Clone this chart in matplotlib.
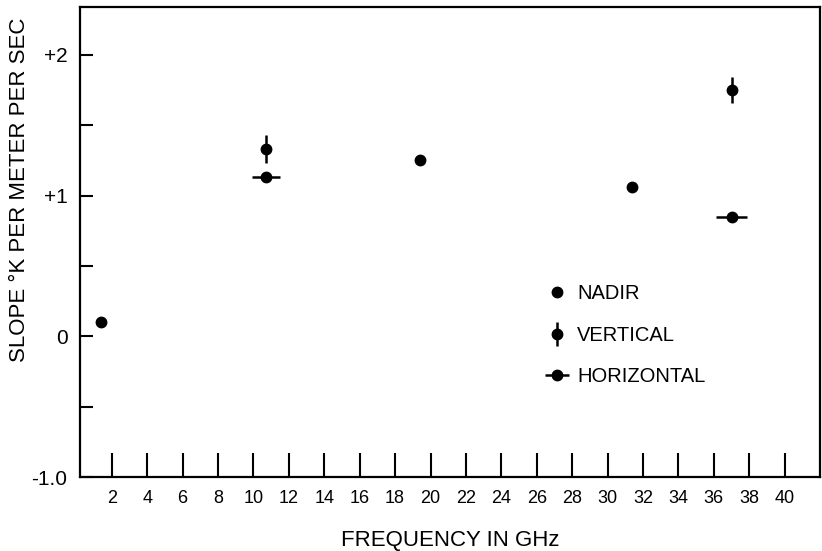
import matplotlib
matplotlib.use("Agg")
import matplotlib.pyplot as plt
from matplotlib.legend_handler import HandlerErrorbar

# --- data ---
nadir_freq = [1.4, 19.4, 31.4]
nadir_slope = [0.10, 1.25, 1.06]

vert_freq = [10.7, 37.0]
vert_slope = [1.33, 1.75]
vert_err = [0.10, 0.09]

horiz_freq = [10.7, 37.0]
horiz_slope = [1.13, 0.85]
horiz_err = [0.8, 0.9]

x_ticks = list(range(2, 41, 2))
y_ticks = [-1, 0, 1, 2]
y_tick_labels = ["-1.0", "0", "+1", "+2"]
y_minor = [-0.5, 0.5, 1.5]

plt.rcParams["font.family"] = ["Liberation Sans", "DejaVu Sans"]

fig = plt.figure(figsize=(8.22, 5.51), dpi=100)
ax = fig.add_axes([0.0973, 0.1343, 0.9003, 0.853])

# nadir points
nad = ax.plot(nadir_freq, nadir_slope, "o", color="black", markersize=7.5,
              linestyle="none", label="NADIR")[0]
# vertical polarisation
ver = ax.errorbar(vert_freq, vert_slope, yerr=vert_err, fmt="o", color="black",
                  markersize=7.5, elinewidth=1.8, capsize=0, label="VERTICAL")
# horizontal polarisation
hor = ax.errorbar(horiz_freq, horiz_slope, xerr=horiz_err, fmt="o", color="black",
                  markersize=7.5, elinewidth=1.8, capsize=0, label="HORIZONTAL")

ax.set_xlim(0.2, 42.0)
ax.set_ylim(-1.0, 2.34)

ax.set_xticks(x_ticks)
ax.set_xticklabels([str(t) for t in x_ticks], fontsize=13)
ax.set_yticks(y_ticks)
ax.set_yticklabels(y_tick_labels, fontsize=15)
ax.set_yticks(y_minor, minor=True)

ax.tick_params(axis="x", direction="in", length=17, width=1.5, pad=9)
ax.tick_params(axis="y", which="both", direction="in", length=9.5, width=1.5, pad=9)

for sp in ax.spines.values():
    sp.set_linewidth(1.6)

ax.set_xlabel("FREQUENCY IN GHz", fontsize=16, labelpad=17)
ax.set_ylabel("SLOPE °K PER METER PER SEC", fontsize=16)
ax.yaxis.set_label_coords(-0.068, 0.61)

ax.legend(handles=[nad, ver, hor], loc="upper left",
          bbox_to_anchor=(0.628, 0.41), frameon=False, fontsize=14.5,
          numpoints=1, handlelength=1.25, handletextpad=0.35,
          labelspacing=1.12, borderpad=0, borderaxespad=0,
          handler_map={type(ver): HandlerErrorbar(xerr_size=0.6)})

fig.savefig("out.png", dpi=100)
